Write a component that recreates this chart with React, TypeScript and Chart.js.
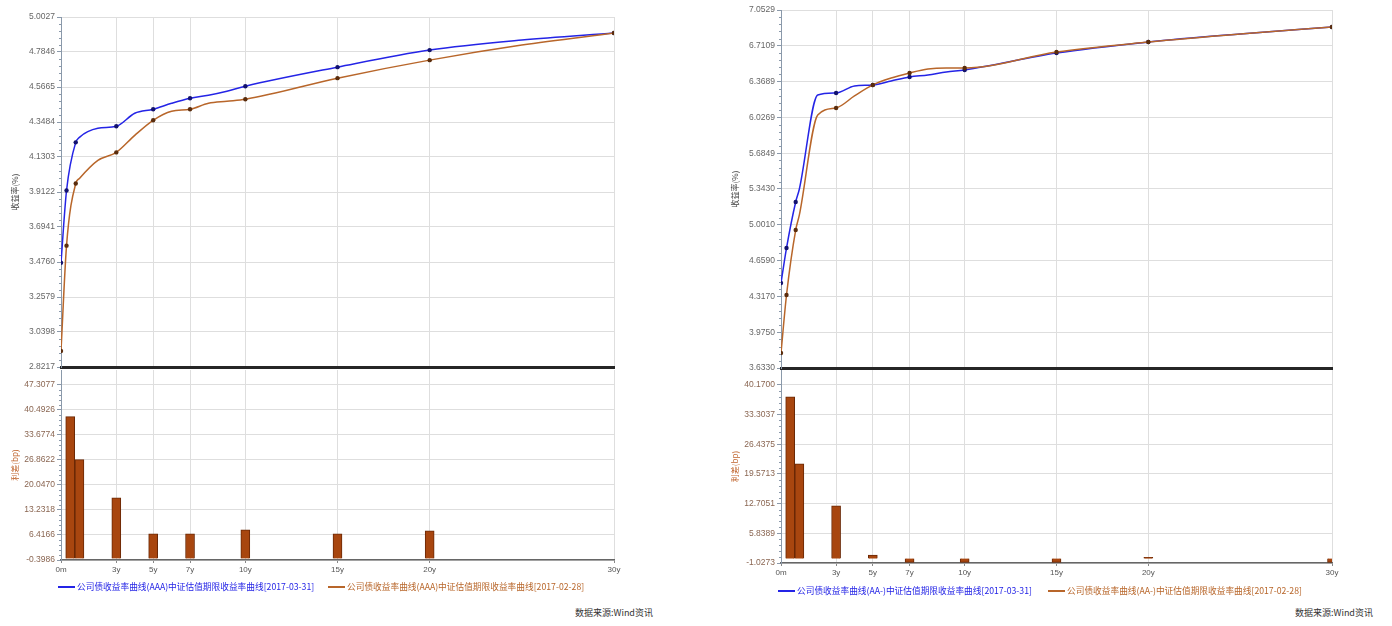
import React, { useEffect, useRef } from "react";
import { Chart, registerables } from "chart.js";
Chart.register(...registerables);

// ---------- data ----------
const tenors = [0, 0.3, 0.8, 1, 2, 3, 4, 5, 6, 7, 8, 9, 10, 15, 20, 25, 30];
const markerTenors = [0, 0.3, 0.8, 3, 5, 7, 10, 15, 20, 30];
const xTickValues = [0, 3, 5, 7, 10, 15, 20, 30];
const xTickLabels = ["0m", "3y", "5y", "7y", "10y", "15y", "20y", "30y"];

const leftBlue = [3.4716, 3.9215, 4.2215, 4.2527, 4.309, 4.3215, 4.4027, 4.4277, 4.4651, 4.4964, 4.5151, 4.54, 4.5712, 4.6901, 4.7964, 4.8589, 4.9026];
const leftOrange = [2.9217, 3.5778, 3.9653, 3.9965, 4.109, 4.159, 4.2652, 4.359, 4.4152, 4.4277, 4.4651, 4.4777, 4.4902, 4.6215, 4.7339, 4.8276, 4.9026];
const rightBlue = [4.445, 4.779, 5.219, 5.343, 6.241, 6.26, 6.327, 6.337, 6.375, 6.413, 6.432, 6.461, 6.48, 6.642, 6.747, 6.824, 6.891];
const rightOrange = [3.776, 4.33, 4.951, 5.095, 6.05, 6.117, 6.232, 6.337, 6.403, 6.451, 6.489, 6.499, 6.499, 6.652, 6.747, 6.824, 6.891];

const leftBarTenors = [0.5, 1, 3, 5, 7, 10, 15, 20];
const leftBarValues = [38.6, 26.9, 16.5, 6.7, 6.7, 7.8, 6.7, 7.5];
const rightBarTenors = [0.5, 1, 3, 5, 7, 10, 15, 20, 30];
const rightBarValues = [37.4, 21.9, 12.2, 0.8, -0.9, -0.9, -0.9, 0.3, -0.9];

const leftTopTicks = [2.8217, 3.0398, 3.2579, 3.476, 3.6941, 3.9122, 4.1303, 4.3484, 4.5665, 4.7846, 5.0027];
const rightTopTicks = [3.633, 3.975, 4.317, 4.659, 5.001, 5.343, 5.6849, 6.0269, 6.3689, 6.7109, 7.0529];
const leftBottomTicks = [-0.3986, 6.4166, 13.2318, 20.047, 26.8622, 33.6774, 40.4926, 47.3077];
const leftBottomMax = 51.26;
const rightBottomTicks = [-1.0273, 5.8389, 12.7051, 19.5713, 26.4375, 33.3037, 40.17];
const rightBottomMax = 43.6;

const leftLegend = [
  "公司债收益率曲线(AAA)中证估值期限收益率曲线[2017-03-31]",
  "公司债收益率曲线(AAA)中证估值期限收益率曲线[2017-02-28]",
];
const rightLegend = [
  "公司债收益率曲线(AA-)中证估值期限收益率曲线[2017-03-31]",
  "公司债收益率曲线(AA-)中证估值期限收益率曲线[2017-02-28]",
];
const sourceText = "数据来源:Wind资讯";
const topTitle = "收益率(%)";
const bottomTitle = "利差(bp)";

// ---------- styles ----------
const BLUE = "#2424e6";
const BLUE_PT = "#12126e";
const ORANGE = "#b8662a";
const ORANGE_PT = "#5a2c0c";
const BAR = "#a8460f";
const BAR_EDGE = "#6a2806";
const GRID = "#dedede";
const AXIS = "#8a99aa";
const FONT = "'Liberation Sans', 'DejaVu Sans', sans-serif";
const CJK = "'Noto Sans CJK SC', 'Noto Sans', sans-serif";

const minorTicks = {
  id: "minorTicks",
  afterDraw(chart: any) {
    const y = chart.scales.y;
    const ctx = chart.ctx;
    const ticks = y.ticks;
    ctx.save();
    ctx.strokeStyle = AXIS;
    ctx.lineWidth = 1;
    for (let i = 0; i < ticks.length - 1; i++) {
      const a = y.getPixelForValue(ticks[i].value);
      const b = y.getPixelForValue(ticks[i + 1].value);
      for (let k = 1; k < 5; k++) {
        const p = Math.round(a + ((b - a) * k) / 5) + 0.5;
        ctx.beginPath();
        ctx.moveTo(y.right - 2, p);
        ctx.lineTo(y.right, p);
        ctx.stroke();
      }
    }
    ctx.restore();
  },
};

function xScale(showLabels: boolean, xHeight: number, borderColor: string, borderWidth: number) {
  return {
    type: "linear",
    min: 0,
    max: 30,
    offset: false,
    afterBuildTicks: (s: any) => {
      s.ticks = xTickValues.map((v) => ({ value: v }));
    },
    ticks: {
      display: showLabels,
      autoSkip: false,
      maxRotation: 0,
      padding: 2,
      color: "#555",
      font: { size: 8, family: FONT },
      callback: (_v: any, i: number) => xTickLabels[i],
    },
    grid: { color: GRID, offset: false, drawTicks: showLabels, tickLength: 3, tickColor: "#888" },
    border: { color: borderColor, width: borderWidth },
    afterFit: (s: any) => {
      s.height = xHeight;
      s.paddingLeft = 0;
      s.paddingRight = 0;
    },
  };
}

function yScale(ticks: number[], max: number, title: string, titleColor: string, labelColor: string) {
  return {
    type: "linear",
    min: ticks[0],
    max,
    afterBuildTicks: (s: any) => {
      s.ticks = ticks.map((v) => ({ value: v }));
    },
    ticks: {
      padding: 2,
      color: labelColor,
      font: { size: 8.5, family: FONT },
      callback: (v: any) => Number(v).toFixed(4),
    },
    grid: { color: GRID, tickLength: 4, tickColor: AXIS },
    border: { color: AXIS, width: 1 },
    title: {
      display: true,
      text: title,
      color: titleColor,
      font: { size: 8, family: CJK },
      padding: { top: 10, bottom: 0 },
    },
    afterFit: (s: any) => {
      s.width = 61;
      s.paddingTop = 0;
      s.paddingBottom = 0;
    },
  };
}

function lineDataset(values: number[], color: string, ptColor: string) {
  return {
    data: tenors.map((t, i) => ({ x: t, y: values[i] })),
    borderColor: color,
    borderWidth: 1.5,
    backgroundColor: ptColor,
    pointBackgroundColor: ptColor,
    pointBorderColor: ptColor,
    pointBorderWidth: 0,
    pointRadius: (c: any) => (c.raw && markerTenors.includes(c.raw.x) ? 2.2 : 0),
    cubicInterpolationMode: "monotone",
    fill: false,
  };
}

function topConfig(blue: number[], orange: number[], ticks: number[], padRight: number, padTop: number, padBottom: number) {
  return {
    type: "line",
    data: { datasets: [lineDataset(orange, ORANGE, ORANGE_PT), lineDataset(blue, BLUE, BLUE_PT)] },
    options: {
      responsive: false,
      animation: false,
      layout: { padding: { left: 0, right: padRight, top: padTop, bottom: padBottom } },
      plugins: { legend: { display: false }, tooltip: { enabled: false } },
      scales: {
        x: xScale(false, 0, "#262626", 3),
        y: yScale(ticks, ticks[ticks.length - 1], topTitle, "#444", "#666"),
      },
    },
    plugins: [minorTicks],
  };
}

function bottomConfig(barT: number[], barV: number[], ticks: number[], max: number, padRight: number, padTop: number, xHeight: number) {
  return {
    type: "bar",
    data: {
      datasets: [
        {
          data: barT.map((t, i) => ({ x: t, y: barV[i] })),
          backgroundColor: BAR,
          borderColor: BAR_EDGE,
          borderWidth: 1,
          barThickness: 9,
        },
      ],
    },
    options: {
      responsive: false,
      animation: false,
      layout: { padding: { left: 0, right: padRight, top: padTop, bottom: 0 } },
      plugins: { legend: { display: false }, tooltip: { enabled: false } },
      scales: {
        x: xScale(true, xHeight, "#666", 1.5),
        y: yScale(ticks, max, bottomTitle, "#c0652e", "#8a6652"),
      },
    },
    plugins: [minorTicks],
  };
}

function ChartBox({ left, top, width, height, config }: any) {
  const ref = useRef<HTMLCanvasElement>(null);
  useEffect(() => {
    const chart = new Chart(ref.current as HTMLCanvasElement, config() as any);
    return () => chart.destroy();
  }, []);
  return (
    <div style={{ position: "absolute", left, top, width, height }}>
      <canvas ref={ref} width={width} height={height} style={{ width, height, display: "block" }} />
    </div>
  );
}

function Legend({ x, y, color, text }: any) {
  return (
    <div style={{ position: "absolute", left: x, top: y - 7, height: 14, display: "flex", alignItems: "center", whiteSpace: "nowrap" }}>
      <div style={{ width: 17, height: 2, background: color, marginRight: 2 }} />
      <span style={{ color, fontSize: 8.7, fontFamily: CJK, lineHeight: "14px" }}>{text}</span>
    </div>
  );
}

function Source({ x, y }: any) {
  return (
    <div style={{ position: "absolute", left: x, top: y - 7, fontSize: 9, lineHeight: "14px", fontFamily: CJK, color: "#333", whiteSpace: "nowrap" }}>
      {sourceText}
    </div>
  );
}

export default function App() {
  return (
    <div style={{ position: "absolute", left: 0, top: 0, width: 1392, height: 626, background: "#fff", overflow: "hidden" }}>
      <ChartBox left={0} top={0} width={640} height={372} config={() => topConfig(leftBlue, leftOrange, leftTopTicks, 26, 17, 5)} />
      <ChartBox left={0} top={369} width={640} height={211} config={() => bottomConfig(leftBarTenors, leftBarValues, leftBottomTicks, leftBottomMax, 26, 1, 20)} />
      <ChartBox left={720} top={0} width={640} height={372} config={() => topConfig(rightBlue, rightOrange, rightTopTicks, 28, 10, 4)} />
      <ChartBox left={720} top={369} width={640} height={214} config={() => bottomConfig(rightBarTenors, rightBarValues, rightBottomTicks, rightBottomMax, 28, 1, 20)} />
      <Legend x={58} y={587} color={BLUE} text={leftLegend[0]} />
      <Legend x={328} y={587} color={ORANGE} text={leftLegend[1]} />
      <Legend x={778} y={591} color={BLUE} text={rightLegend[0]} />
      <Legend x={1048} y={591} color={ORANGE} text={rightLegend[1]} />
      <Source x={575} y={613} />
      <Source x={1295} y={613} />
    </div>
  );
}
